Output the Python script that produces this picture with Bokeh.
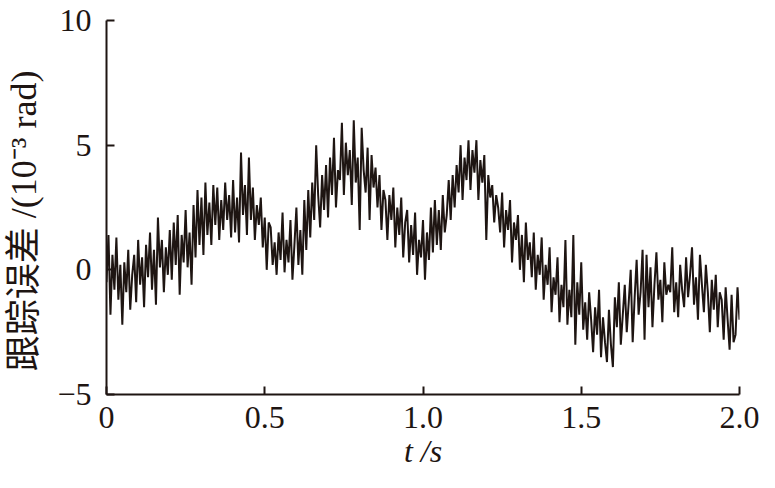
from bokeh.plotting import figure
from bokeh.models import Range1d, ColumnDataSource, FixedTicker
from bokeh.embed import file_html
from bokeh.resources import INLINE

# ---- data ----
x_ticks = [0, 0.5, 1.0, 1.5, 2.0]
x_tick_labels = ["0", "0.5", "1.0", "1.5", "2.0"]
y_ticks = [-5, 0, 5, 10]
y_tick_labels = ["\u22125", "0", "5", "10"]
x_title = "t /s"
y_title = "跟踪误差 /(10\u207b\u00b3 rad)"

# tracking error, 10^-3 rad, sampled uniformly over 0 .. 2 s
err_0_05 = [-0.5, 1.4, -1.8, 0.6, -0.8, 1.3, -1.2, 0.2,
            -2.2, 0.3, -0.9, 0.8, -1.6, -0.2, 0.6, -1.3,
            1.2, -0.6, 0.5, -1.5, 1.0, -0.3, 1.5, -0.8,
            0.8, -1.4, 2.1, 0.1, 1.2, -0.9, 0.9, -0.2,
            1.6, -0.4, 1.9, 0.2, 2.2, -1.0, 1.4, 0.3,
            2.4, 0.1, 1.5, -0.6, 2.6, 0.5, 3.2, 1.0,
            2.9, 0.6, 3.5, 1.4, 2.7, 1.0, 3.4, 1.8,
            3.3, 1.2, 2.8, 1.6, 3.5, 2.0, 3.0, 1.3,
            3.6, 1.5, 2.9, 1.1, 4.7, 2.2, 3.4, 1.4,
            4.5, 2.0, 3.3, 1.2, 2.6, 1.8, 2.9, 0.9]
err_05_10 = [2.1, 0.0, 1.9, 1.7, 0.2, 1.1, -0.2, 1.5,
             0.4, 2.3, -0.1, 1.2, 0.3, 2.0, -0.4, 1.0,
             2.5, 0.2, 1.6, -0.2, 2.8, 0.8, 3.2, 1.3,
             3.5, 2.0, 5.0, 3.0, 1.7, 3.8, 2.4, 4.2,
             2.1, 4.5, 3.0, 5.3, 2.5, 4.0, 3.6, 5.9,
             3.0, 5.1, 3.8, 4.8, 2.6, 6.0, 3.5, 4.5,
             1.6, 5.7, 4.0, 3.1, 4.9, 2.0, 4.6, 3.3,
             4.1, 2.5, 3.8, 1.6, 3.2, 2.8, 1.2, 3.0,
             2.0, 3.3, 0.9, 2.5, 1.4, 2.9, 0.5, 1.9,
             2.4, 0.3, 1.8, 0.6, 2.3, -0.2, 1.2, 0.5]
err_10_15 = [2.0, -0.4, 1.5, 0.4, 2.5, 0.7, 2.8, 1.0,
             2.4, 0.8, 3.0, 1.5, 2.2, 3.6, 2.0, 3.8,
             2.5, 4.2, 3.1, 5.0, 2.8, 4.5, 3.6, 5.2,
             3.2, 4.8, 3.9, 5.2, 2.8, 4.4, 3.5, 4.6,
             1.2, 3.8, 2.9, 3.4, 1.9, 3.0, 2.5, 1.5,
             3.1, 0.9, 2.4, 1.6, 2.8, 0.3, 1.9, 1.2,
             2.2, 0.0, 1.4, -0.5, 1.9, 0.4, 1.1, -0.3,
             1.5, -0.8, 0.6, -0.2, 1.3, -1.2, 0.2, -0.6,
             0.9, -1.7, -0.3, -1.0, 0.5, -2.1, -0.6, -1.5,
             1.2, -2.2, -0.8, -1.9, 1.4, -3.0, -0.5, -1.8]
err_15_20 = [0.3, -2.4, -1.3, -2.8, -0.9, -2.0, -3.3, -1.5,
             -2.6, -0.8, -3.5, -1.9, -2.9, -3.7, -1.6, -3.0,
             -3.9, -1.1, -2.3, -0.5, -3.0, -1.8, -0.6, -2.5,
             -1.3, 0.0, -2.9, -1.1, 0.4, -1.8, -0.9, 0.8,
             -2.8, 0.6, -1.5, 0.1, -2.3, -0.6, 0.7, -1.2,
             -0.4, -2.1, 0.3, -1.0, -0.6, -0.9, 0.9, -1.7,
             -0.5, -1.9, 0.2, -0.8, -1.5, 0.5, -1.1, -0.2,
             0.9, -1.4, -0.3, -2.0, 0.6, -0.6, -1.7, 0.2,
             -0.9, -2.5, -0.4, -1.6, -0.2, -2.3, -0.9, -1.2,
             -2.8, -0.7, -2.0, -3.2, -1.0, -2.9, -2.6, -0.7,
             -2.0]

error = err_0_05 + err_05_10 + err_10_15 + err_15_20
t_end = 2.0
t = [i * t_end / (len(error) - 1) for i in range(len(error))]

INK = "#1e1512"
SERIF = "Liberation Serif, Times New Roman, Noto Sans CJK SC"

p = figure(width=759, height=472, output_backend="svg", toolbar_location=None,
           x_range=Range1d(0, 2.0), y_range=Range1d(-5, 10),
           min_border_left=106, min_border_right=20, min_border_top=20,
           min_border_bottom=78)
p.outline_line_color = None
p.xgrid.visible = False
p.ygrid.visible = False
p.background_fill_color = "white"
p.border_fill_color = "white"

src = ColumnDataSource(dict(t=t, err=error))
p.line("t", "err", source=src, line_color=INK, line_width=2.0)

for ax, ticks, labels in ((p.xaxis[0], x_ticks, x_tick_labels),
                          (p.yaxis[0], y_ticks, y_tick_labels)):
    ax.ticker = FixedTicker(ticks=ticks)
    ax.major_label_overrides = {tk: lb for tk, lb in zip(ticks, labels)}
    ax.axis_line_color = INK
    ax.axis_line_width = 2
    ax.major_tick_line_color = INK
    ax.major_tick_line_width = 2
    ax.major_tick_in = 8
    ax.major_tick_out = 0
    ax.minor_tick_line_color = None
    ax.major_label_text_font = SERIF
    ax.major_label_text_font_size = "32px"
    ax.major_label_text_line_height = 1.0
    ax.major_label_text_color = INK
    ax.axis_label_text_font = SERIF
    ax.axis_label_text_color = INK
    ax.axis_label_text_line_height = 1.0

p.xaxis.major_label_standoff = 12
p.yaxis.major_label_standoff = 15

p.xaxis.axis_label = x_title
p.xaxis.axis_label_text_font_style = "italic"
p.xaxis.axis_label_text_font_size = "32px"
p.xaxis.axis_label_standoff = 2

# trailing no-break spaces push the rotated title slightly downwards, as in the reference
p.yaxis.axis_label = y_title + "\u00a0" * 3
p.yaxis.axis_label_text_font_style = "normal"
p.yaxis.axis_label_text_font_size = "36px"
p.yaxis.axis_label_standoff = 10

open("out.html", "w").write(file_html(p, INLINE))
